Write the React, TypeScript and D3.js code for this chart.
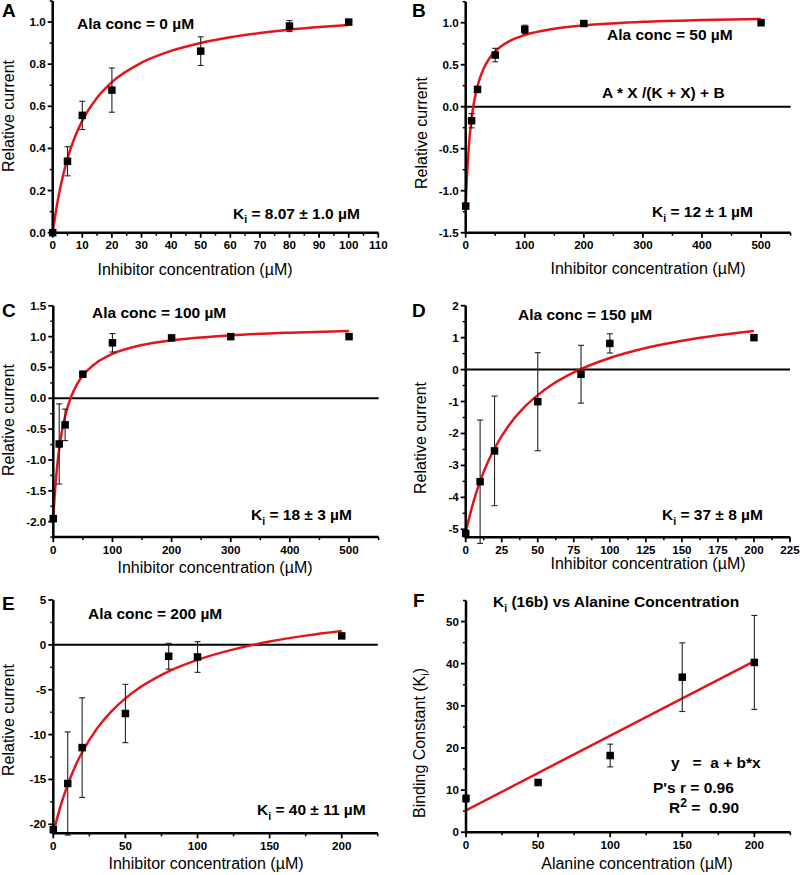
import React from 'react';
import * as d3 from 'd3';

// ---------- DATA ----------
// Panel A (Ala 0 µM)
const aConc = [0, 5, 10, 20, 50, 80, 100];
const aCurrent = [0, 0.339, 0.557, 0.677, 0.862, 0.981, 1.0];
const aErr = [0, 0.069, 0.067, 0.105, 0.068, 0.026, 0];
const aFitX = [0, 1, 2, 3, 5, 7.5, 10, 15, 20, 30, 40, 50, 60, 70, 80, 90, 100];
const aFitY = [0, 0.095, 0.174, 0.242, 0.352, 0.454, 0.532, 0.641, 0.715, 0.807, 0.863, 0.901, 0.928, 0.948, 0.964, 0.976, 0.986];
const aXTicks = [0, 10, 20, 30, 40, 50, 60, 70, 80, 90, 100, 110];
const aYTicks = [0, 0.2, 0.4, 0.6, 0.8, 1.0];

// Panel B (Ala 50 µM)
const bConc = [0, 10, 20, 50, 100, 200, 500];
const bCurrent = [-1.183, -0.167, 0.206, 0.615, 0.92, 0.99, 1.0];
const bErr = [0.03, 0.085, 0.02, 0.08, 0.05, 0.02, 0];
const bFitX = [0, 1, 2, 3, 4, 6, 8, 10, 15, 20, 30, 40, 50, 75, 100, 150, 200, 300, 400, 500];
const bFitY = [-1.17, -0.996, -0.846, -0.717, -0.603, -0.414, -0.263, -0.139, 0.089, 0.247, 0.449, 0.574, 0.658, 0.784, 0.854, 0.929, 0.969, 1.010, 1.031, 1.044];
const bXTicks = [0, 100, 200, 300, 400, 500];
const bYTicks = [-1.5, -1.0, -0.5, 0.0, 0.5, 1.0];

// Panel C (Ala 100 µM)
const cConc = [0, 10, 20, 50, 100, 200, 300, 500];
const cCurrent = [-1.95, -0.74, -0.43, 0.39, 0.9, 0.98, 1.0, 1.0];
const cErr = [0.03, 0.65, 0.255, 0.05, 0.15, 0.02, 0.01, 0];
const cFitX = [0, 2, 4, 6, 8, 10, 15, 20, 30, 40, 50, 75, 100, 150, 200, 300, 400, 500];
const cFitY = [-1.94, -1.626, -1.369, -1.155, -0.974, -0.819, -0.513, -0.287, 0.023, 0.226, 0.369, 0.592, 0.721, 0.864, 0.940, 1.022, 1.065, 1.090];
const cXTicks = [0, 100, 200, 300, 400, 500];
const cYTicks = [-2.0, -1.5, -1.0, -0.5, 0.0, 0.5, 1.0, 1.5];

// Panel D (Ala 150 µM)
const dConc = [0, 10, 20, 50, 80, 100, 200];
const dCurrent = [-5.13, -3.51, -2.545, -1.005, -0.145, 0.82, 1.0];
const dErr = [0, 1.93, 1.715, 1.535, 0.905, 0.3, 0];
const dFitX = [0, 5, 10, 15, 20, 30, 40, 50, 60, 75, 100, 125, 150, 175, 200];
const dFitY = [-5.09, -4.2, -3.5, -2.935, -2.47, -1.745, -1.209, -0.8, -0.469, -0.088, 0.363, 0.674, 0.902, 1.076, 1.21];
const dXTicks = [0, 25, 50, 75, 100, 125, 150, 175, 200, 225];
const dYTicks = [-5, -4, -3, -2, -1, 0, 1, 2];

// Panel E (Ala 200 µM)
const eConc = [0, 10, 20, 50, 80, 100, 200];
const eCurrent = [-20.6, -15.45, -11.45, -7.65, -1.27, -1.35, 1.0];
const eErr = [0, 5.75, 5.55, 3.25, 1.44, 1.71, 0];
const eFitX = [0, 5, 10, 15, 20, 30, 40, 50, 60, 80, 100, 125, 150, 175, 200];
const eFitY = [-20.98, -17.98, -15.57, -13.6, -11.97, -9.39, -7.46, -5.96, -4.76, -2.95, -1.67, -0.5, 0.37, 1.03, 1.55];
const eXTicks = [0, 50, 100, 150, 200];
const eYTicks = [-20, -15, -10, -5, 0, 5];

// Panel F (Ki vs alanine)
const fAla = [0, 50, 100, 150, 200];
const fKi = [8.0, 11.8, 18.2, 36.8, 40.3];
const fErr = [0.8, 0.6, 2.7, 8.15, 11.15];
const fFitX = [0, 200];
const fFitY = [5.2, 40.6];
const fXTicks = [0, 50, 100, 150, 200];
const fYTicks = [0, 10, 20, 30, 40, 50];

// ---------- LAYOUT / STYLE ----------
const FONT = 'Liberation Sans, Arial, Helvetica, sans-serif';
const RED = '#e3141c';
const TICK_FS = 11.6;

type Seg = { t: string; sub?: boolean; sup?: boolean };
type Ann = { x: number; y: number; segs: Seg[] };

type Spec = {
  letter: string; letterX: number; letterY: number;
  xDomain: [number, number]; xRange: [number, number];
  yDomain: [number, number]; yRange: [number, number];
  xTicks: number[]; yTicks: number[];
  yFmt: (d: number) => string;
  xs: number[]; ys: number[]; errs: number[];
  fitX: number[]; fitY: number[]; linear?: boolean;
  zeroLine: boolean;
  anns: Ann[];
  xTitle: Seg[]; xTitleX: number; xTitleY: number;
  yTitle: Seg[]; yTitleX: number; yTitleY: number;
};

const f1 = (d: number) => d.toFixed(1);
const f0 = (d: number) => String(d);
const KI = (rest: string): Seg[] => [{ t: 'K' }, { t: 'i', sub: true }, { t: rest }];

const specs: Spec[] = [
  {
    letter: 'A', letterX: 2, letterY: 17,
    xDomain: [0, 110], xRange: [52.7, 378.3], yDomain: [0, 1.1], yRange: [232.7, 1],
    xTicks: aXTicks, yTicks: aYTicks, yFmt: f1,
    xs: aConc, ys: aCurrent, errs: aErr, fitX: aFitX, fitY: aFitY, zeroLine: false,
    anns: [
      { x: 77, y: 29, segs: [{ t: 'Ala conc = 0 \u00b5M' }] },
      { x: 233, y: 218.5, segs: KI(' = 8.07 \u00b1 1.0 \u00b5M') },
    ],
    xTitle: [{ t: 'Inhibitor concentration (\u00b5M)' }], xTitleX: 195, xTitleY: 275,
    yTitle: [{ t: 'Relative current' }], yTitleX: 13.5, yTitleY: 116,
  },
  {
    letter: 'B', letterX: 412, letterY: 17,
    xDomain: [0, 550], xRange: [465.7, 790.6], yDomain: [-1.5, 1.25], yRange: [232.7, 1.7],
    xTicks: bXTicks, yTicks: bYTicks, yFmt: f1,
    xs: bConc, ys: bCurrent, errs: bErr, fitX: bFitX, fitY: bFitY, zeroLine: true,
    anns: [
      { x: 607, y: 39.5, segs: [{ t: 'Ala conc = 50 \u00b5M' }] },
      { x: 602, y: 98, segs: [{ t: 'A * X /(K + X) + B' }] },
      { x: 652, y: 217, segs: KI(' = 12 \u00b1 1 \u00b5M') },
    ],
    xTitle: [{ t: 'Inhibitor concentration (\u00b5M)' }], xTitleX: 648, xTitleY: 274,
    yTitle: [{ t: 'Relative current' }], yTitleX: 427, yTitleY: 133,
  },
  {
    letter: 'C', letterX: 2, letterY: 317,
    xDomain: [0, 550], xRange: [53.3, 378.6], yDomain: [-2.25, 1.5], yRange: [537.1, 305.8],
    xTicks: cXTicks, yTicks: cYTicks, yFmt: f1,
    xs: cConc, ys: cCurrent, errs: cErr, fitX: cFitX, fitY: cFitY, zeroLine: true,
    anns: [
      { x: 92, y: 318, segs: [{ t: 'Ala conc = 100 \u00b5M' }] },
      { x: 251, y: 520, segs: KI(' = 18 \u00b1 3 \u00b5M') },
    ],
    xTitle: [{ t: 'Inhibitor concentration (\u00b5M)' }], xTitleX: 215, xTitleY: 573,
    yTitle: [{ t: 'Relative current' }], yTitleX: 13.5, yTitleY: 420,
  },
  {
    letter: 'D', letterX: 412, letterY: 317,
    xDomain: [0, 225], xRange: [465.7, 790], yDomain: [-5.25, 2], yRange: [537.3, 305.7],
    xTicks: dXTicks, yTicks: dYTicks, yFmt: f0,
    xs: dConc, ys: dCurrent, errs: dErr, fitX: dFitX, fitY: dFitY, zeroLine: true,
    anns: [
      { x: 518, y: 320, segs: [{ t: 'Ala conc = 150 \u00b5M' }] },
      { x: 662, y: 520, segs: KI(' = 37 \u00b1 8 \u00b5M') },
    ],
    xTitle: [{ t: 'Inhibitor concentration (\u00b5M)' }], xTitleX: 648, xTitleY: 569,
    yTitle: [{ t: 'Relative current' }], yTitleX: 426, yTitleY: 438,
  },
  {
    letter: 'E', letterX: 2, letterY: 610,
    xDomain: [0, 225], xRange: [53.3, 377.8], yDomain: [-21, 5], yRange: [833.3, 600],
    xTicks: eXTicks, yTicks: eYTicks, yFmt: f0,
    xs: eConc, ys: eCurrent, errs: eErr, fitX: eFitX, fitY: eFitY, zeroLine: true,
    anns: [
      { x: 88, y: 619, segs: [{ t: 'Ala conc = 200 \u00b5M' }] },
      { x: 257, y: 815, segs: KI(' = 40 \u00b1 11 \u00b5M') },
    ],
    xTitle: [{ t: 'Inhibitor concentration (\u00b5M)' }], xTitleX: 206, xTitleY: 869,
    yTitle: [{ t: 'Relative current' }], yTitleX: 13.5, yTitleY: 720,
  },
  {
    letter: 'F', letterX: 413, letterY: 607,
    xDomain: [0, 225], xRange: [466, 790.4], yDomain: [0, 55], yRange: [832.2, 600.5],
    xTicks: fXTicks, yTicks: fYTicks, yFmt: f0,
    xs: fAla, ys: fKi, errs: fErr, fitX: fFitX, fitY: fFitY, linear: true, zeroLine: false,
    anns: [
      { x: 493, y: 607, segs: KI(' (16b) vs Alanine Concentration') },
      { x: 671, y: 768, segs: [{ t: 'y   =  a + b*x' }] },
      { x: 653, y: 793, segs: [{ t: "P's r = 0.96" }] },
      { x: 669, y: 813, segs: [{ t: 'R' }, { t: '2', sup: true }, { t: ' =  0.90' }] },
    ],
    xTitle: [{ t: 'Alanine concentration (\u00b5M)' }], xTitleX: 637, xTitleY: 869,
    yTitle: [{ t: 'Binding Constant (K' }, { t: 'i', sub: true }, { t: ')' }], yTitleX: 424.5, yTitleY: 743,
  },
];

function Rich({ x, y, segs, size, weight, anchor, transform }: {
  x: number; y: number; segs: Seg[]; size: number; weight: string | number; anchor?: string; transform?: string;
}) {
  let shift = 0;
  const kids = segs.map((s, i) => {
    const target = s.sub ? size * 0.3 : s.sup ? -size * 0.4 : 0;
    const dy = target - shift;
    shift = target;
    return (
      <tspan key={i} dy={dy} fontSize={s.sub ? size * 0.68 : s.sup ? size * 0.78 : size}>{s.t}</tspan>
    );
  });
  return (
    <text x={x} y={y} fontFamily={FONT} fontSize={size} fontWeight={weight} textAnchor={anchor || 'start'}
      transform={transform} style={{ whiteSpace: 'pre' }} fill="#000">
      {kids}
    </text>
  );
}

function minorTicks(majors: number[], domain: [number, number]): number[] {
  const step = majors[1] - majors[0];
  const out: number[] = [];
  const start = majors[0] - step / 2;
  for (let v = start; v <= domain[1] + 1e-9; v += step) {
    if (v >= domain[0] - 1e-9) out.push(v);
  }
  return out;
}

function Panel({ s }: { s: Spec }) {
  const x = d3.scaleLinear().domain(s.xDomain).range(s.xRange);
  const y = d3.scaleLinear().domain(s.yDomain).range(s.yRange);
  const pts: [number, number][] = s.fitX.map((v, i) => [v, s.fitY[i]]);
  const line = d3.line<[number, number]>()
    .x(d => x(d[0])).y(d => y(d[1]))
    .curve(s.linear ? d3.curveLinear : d3.curveMonotoneX);
  const x0 = x(s.xDomain[0]);
  const y0 = y(s.yDomain[0]);
  const xMin = minorTicks(s.xTicks, s.xDomain);
  const yMin = minorTicks(s.yTicks, s.yDomain);
  const sq = 7.5;
  const cap = 3;
  return (
    <g>
      {s.zeroLine && (
        <line x1={x0} x2={x(s.xDomain[1])} y1={y(0)} y2={y(0)} stroke="#000" strokeWidth={2} />
      )}
      <path d={line(pts) || ''} fill="none" stroke={RED} strokeWidth={2.5} />
      {s.xs.map((v, i) => s.errs[i] > 0 ? (
        <g key={'e' + i} stroke="#222" strokeWidth={1.1}>
          <line x1={x(v)} x2={x(v)} y1={y(s.ys[i] - s.errs[i])} y2={y(s.ys[i] + s.errs[i])} />
          <line x1={x(v) - cap} x2={x(v) + cap} y1={y(s.ys[i] - s.errs[i])} y2={y(s.ys[i] - s.errs[i])} />
          <line x1={x(v) - cap} x2={x(v) + cap} y1={y(s.ys[i] + s.errs[i])} y2={y(s.ys[i] + s.errs[i])} />
        </g>
      ) : null)}
      {s.xs.map((v, i) => (
        <rect key={'m' + i} x={x(v) - sq / 2} y={y(s.ys[i]) - sq / 2} width={sq} height={sq} fill="#000" />
      ))}
      <line x1={x0} x2={x(s.xDomain[1])} y1={y0} y2={y0} stroke="#000" strokeWidth={2.5} />
      <line x1={x0} x2={x0} y1={y0 + 1.25} y2={y(s.yDomain[1])} stroke="#000" strokeWidth={2.5} />
      {s.xTicks.map((v, i) => (
        <g key={'xt' + i}>
          <line x1={x(v)} x2={x(v)} y1={y0} y2={y0 + 5} stroke="#000" strokeWidth={1.8} />
          <text x={x(v)} y={y0 + 16.5} textAnchor="middle" fontFamily={FONT} fontSize={TICK_FS} fontWeight="bold">{f0(v)}</text>
        </g>
      ))}
      {xMin.map((v, i) => (
        <line key={'xm' + i} x1={x(v)} x2={x(v)} y1={y0} y2={y0 + 3} stroke="#000" strokeWidth={1.5} />
      ))}
      {s.yTicks.map((v, i) => (
        <g key={'yt' + i}>
          <line x1={x0} x2={x0 - 5} y1={y(v)} y2={y(v)} stroke="#000" strokeWidth={1.8} />
          <text x={x0 - 7} y={y(v) + 4} textAnchor="end" fontFamily={FONT} fontSize={TICK_FS} fontWeight="bold">{s.yFmt(v)}</text>
        </g>
      ))}
      {yMin.map((v, i) => (
        <line key={'ym' + i} x1={x0} x2={x0 - 3} y1={y(v)} y2={y(v)} stroke="#000" strokeWidth={1.5} />
      ))}
      <Rich x={s.xTitleX} y={s.xTitleY} segs={s.xTitle} size={16} weight="normal" anchor="middle" />
      <Rich x={0} y={0} segs={s.yTitle} size={16} weight="normal" anchor="middle"
        transform={`translate(${s.yTitleX},${s.yTitleY}) rotate(-90)`} />
      {s.anns.map((a, i) => (
        <Rich key={'a' + i} x={a.x} y={a.y} segs={a.segs} size={15.5} weight="bold" />
      ))}
      <text x={s.letterX} y={s.letterY} fontFamily={FONT} fontSize={19} fontWeight="bold">{s.letter}</text>
    </g>
  );
}

export default function App() {
  return (
    <svg width={800} height={875} viewBox="0 0 800 875"
      style={{ position: 'absolute', left: 0, top: 0, background: '#fff' }}>
      <rect x={0} y={0} width={800} height={875} fill="#fff" />
      {specs.map((s, i) => <Panel key={i} s={s} />)}
    </svg>
  );
}
